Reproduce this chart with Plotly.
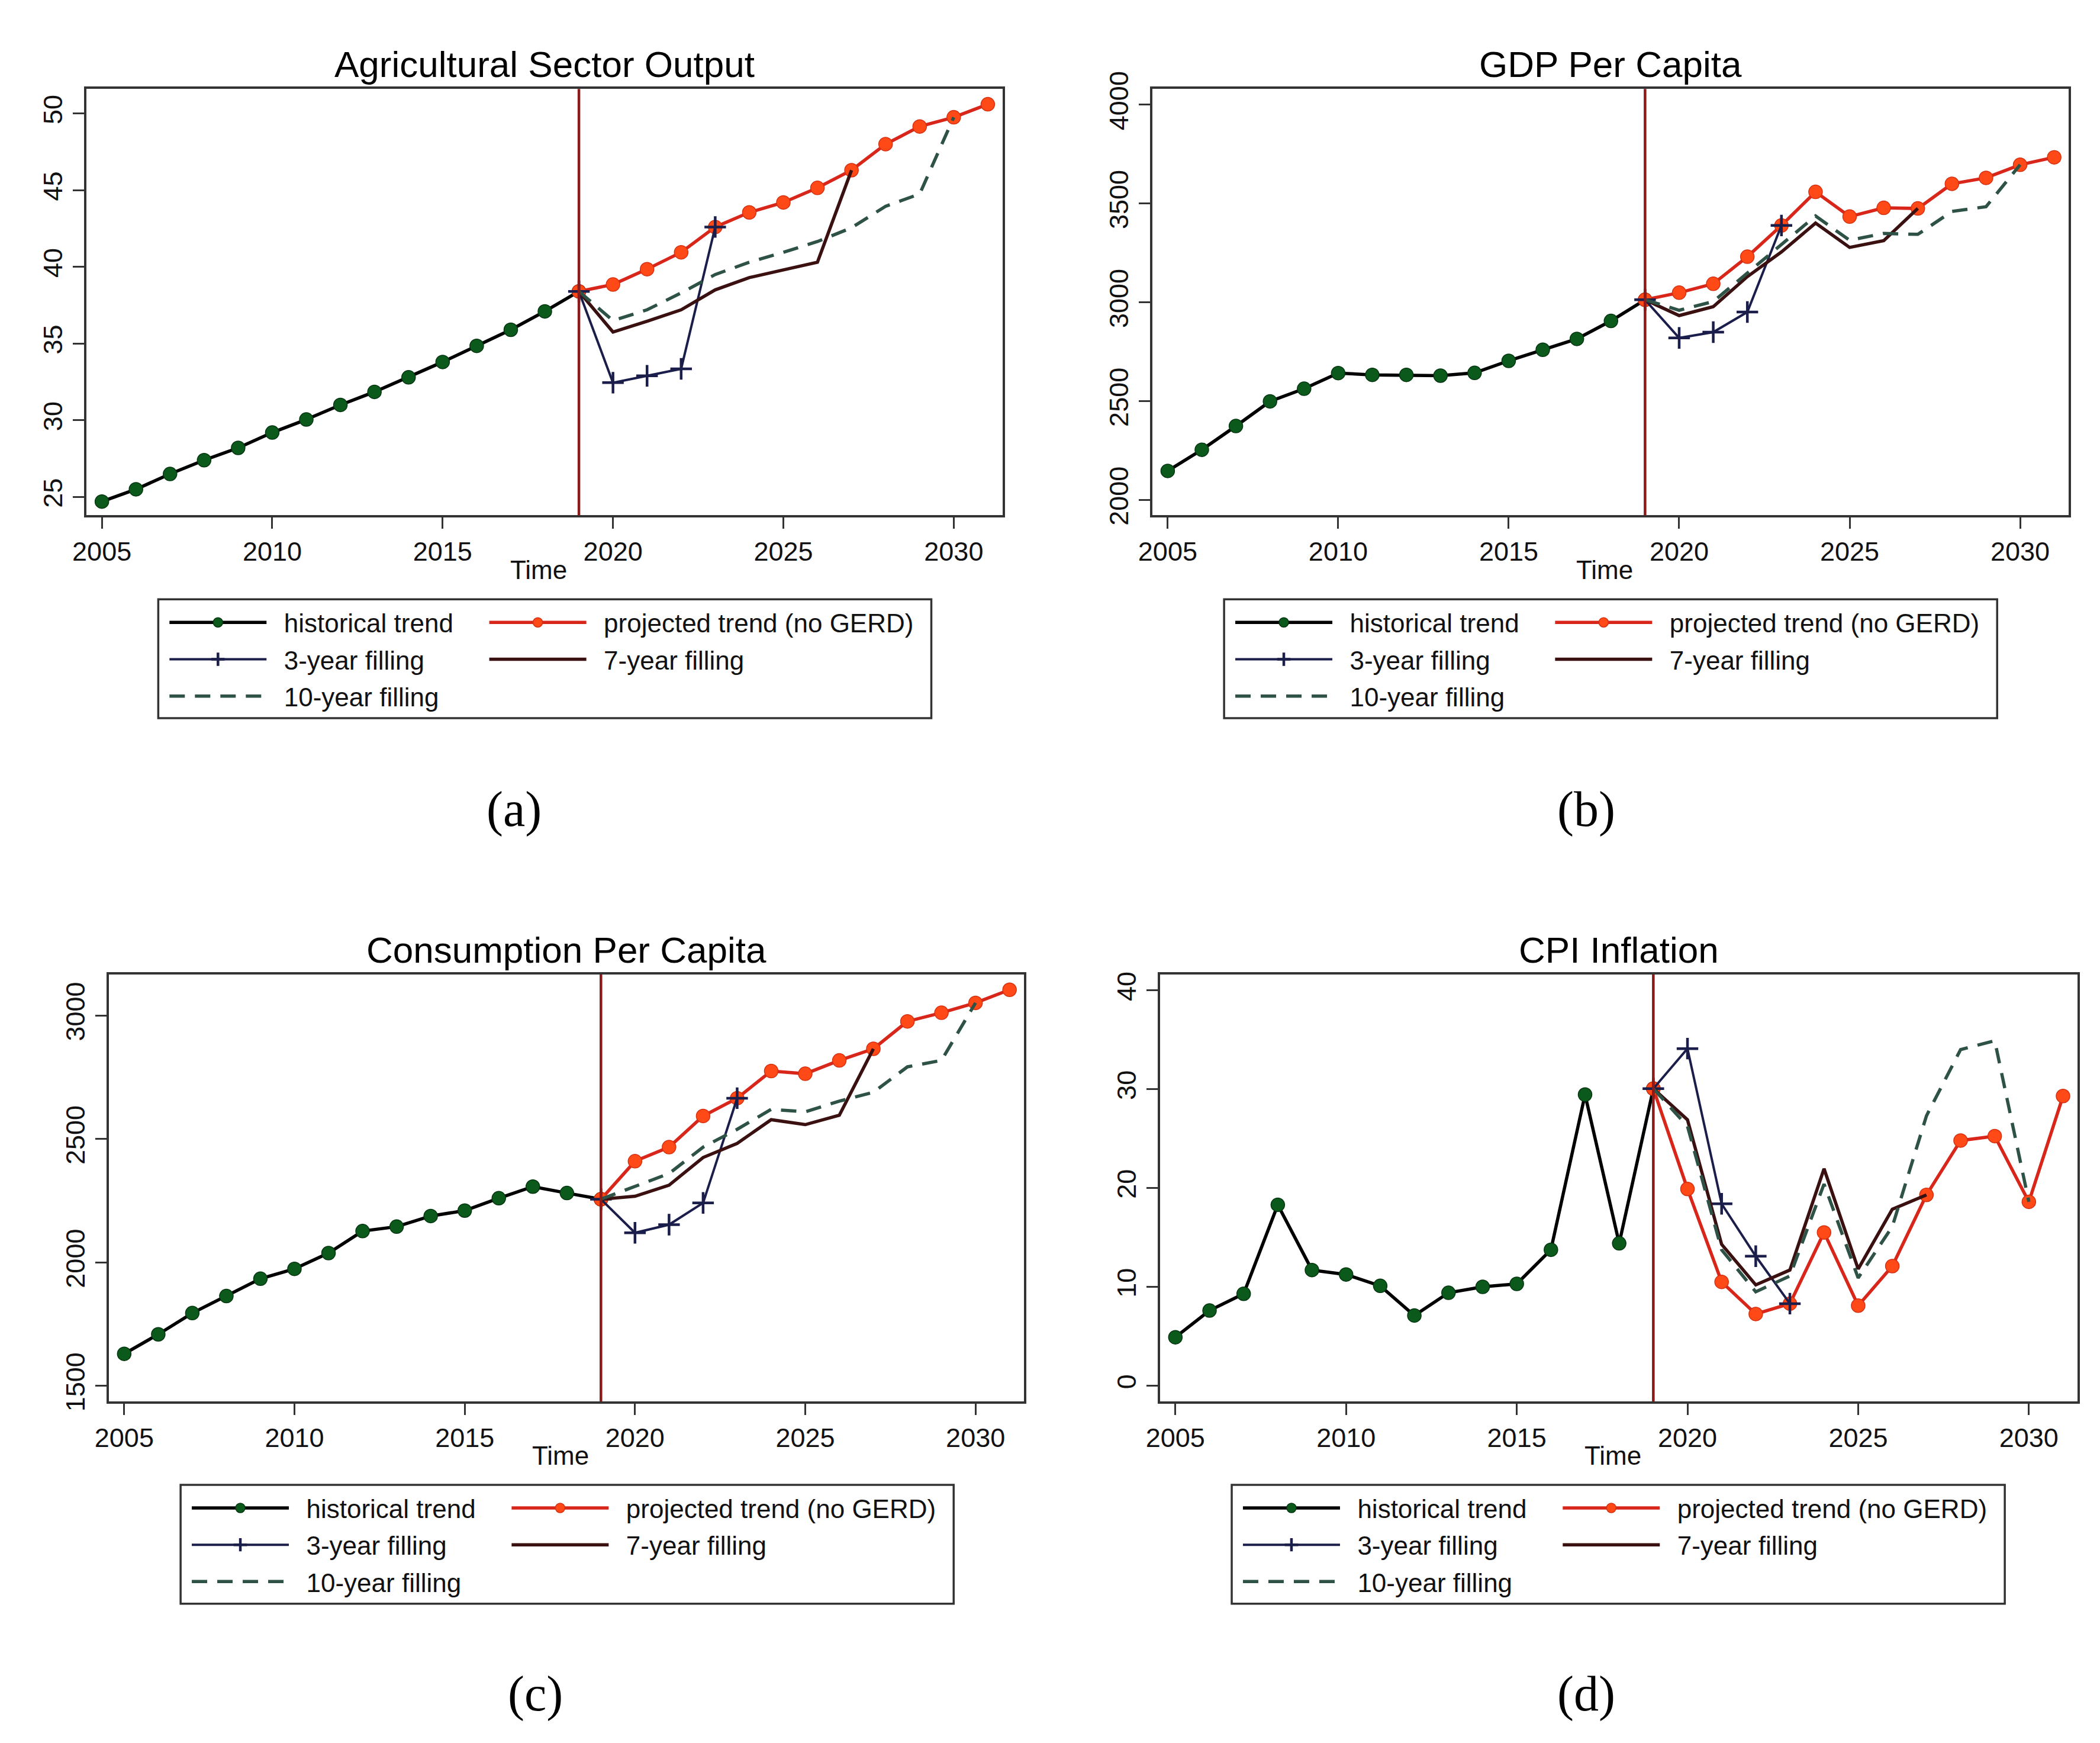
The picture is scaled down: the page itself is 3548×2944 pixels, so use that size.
import plotly.graph_objects as go

W, H = 3548, 2944

# ---------------- data ----------------
years_hist = [2005, 2006, 2007, 2008, 2009, 2010, 2011, 2012, 2013, 2014, 2015, 2016, 2017, 2018, 2019]
years_proj = [2019, 2020, 2021, 2022, 2023, 2024, 2025, 2026, 2027, 2028, 2029, 2030, 2031]
years_3 = [2019, 2020, 2021, 2022, 2023]
years_7 = [2019, 2020, 2021, 2022, 2023, 2024, 2025, 2026, 2027]
years_10 = [2019, 2020, 2021, 2022, 2023, 2024, 2025, 2026, 2027, 2028, 2029, 2030]
break_year = 2019
x_ticks = [2005, 2010, 2015, 2020, 2025, 2030]

series_names = ["historical trend", "projected trend (no GERD)", "3-year filling",
                "7-year filling", "10-year filling"]

# (a) Agricultural Sector Output
agr_hist = [24.7, 25.5, 26.5, 27.4, 28.2, 29.2, 30.05, 31.0, 31.85, 32.8, 33.8, 34.85, 35.9, 37.1, 38.4]
agr_proj = [38.4, 38.85, 39.85, 40.95, 42.6, 43.55, 44.2, 45.15, 46.3, 48.0, 49.15, 49.75, 50.6]
agr_3 = [38.4, 32.45, 32.9, 33.35, 42.6]
agr_7 = [38.4, 35.75, 36.45, 37.2, 38.5, 39.3, 39.8, 40.3, 46.3]
agr_10 = [38.4, 36.5, 37.2, 38.3, 39.5, 40.3, 40.95, 41.65, 42.55, 43.95, 44.75, 49.75]
agr_ticks = [25, 30, 35, 40, 45, 50]

# (b) GDP Per Capita
gdp_hist = [2147, 2254, 2374, 2499, 2563, 2642, 2633, 2633, 2629, 2643, 2704, 2760, 2815, 2906, 3013]
gdp_proj = [3013, 3049, 3094, 3231, 3389, 3559, 3434, 3478, 3475, 3600, 3630, 3696, 3734]
gdp_3 = [3013, 2820, 2849, 2951, 3389]
gdp_7 = [3013, 2933, 2978, 3130, 3255, 3401, 3278, 3312, 3475]
gdp_10 = [3013, 2960, 3004, 3147, 3290, 3437, 3314, 3349, 3344, 3460, 3484, 3696]
gdp_ticks = [2000, 2500, 3000, 3500, 4000]

# (c) Consumption Per Capita
cons_hist = [1630, 1709, 1795, 1864, 1934, 1974, 2038, 2127, 2145, 2188, 2210, 2260, 2307, 2281, 2256]
cons_proj = [2256, 2410, 2467, 2593, 2665, 2775, 2764, 2818, 2865, 2976, 3011, 3051, 3104]
cons_3 = [2256, 2120, 2153, 2241, 2665]
cons_7 = [2256, 2268, 2313, 2425, 2482, 2578, 2558, 2596, 2865]
cons_10 = [2256, 2307, 2360, 2467, 2539, 2620, 2610, 2653, 2689, 2792, 2818, 3051]
cons_ticks = [1500, 2000, 2500, 3000]

# (d) CPI Inflation
cpi_hist = [4.9, 7.6, 9.3, 18.3, 11.7, 11.25, 10.1, 7.1, 9.4, 10.0, 10.3, 13.75, 29.45, 14.4, 30.05]
cpi_proj = [30.05, 19.9, 10.5, 7.25, 8.3, 15.5, 8.1, 12.1, 19.3, 24.8, 25.25, 18.6, 29.3]
cpi_3 = [30.05, 34.1, 18.4, 13.1, 8.3]
cpi_7 = [30.05, 26.9, 14.3, 10.2, 11.7, 21.95, 11.8, 17.85, 19.3]
cpi_10 = [30.05, 26.25, 13.75, 9.5, 11.1, 20.4, 10.9, 16.1, 27.3, 34.0, 34.9, 18.6]
cpi_ticks = [0, 10, 20, 30, 40]

# ---------------- layout geometry (pixels) ----------------
panels = [
    dict(title="Agricultural Sector Output", label="(a)",
         data=(agr_hist, agr_proj, agr_3, agr_7, agr_10), ticks=agr_ticks, yr=[23.8, 51.6],
         box=(115, 114, 1673, 846), leg=(237, 990, 1552, 1194), lab=(842, 1351)),
    dict(title="GDP Per Capita", label="(b)",
         data=(gdp_hist, gdp_proj, gdp_3, gdp_7, gdp_10), ticks=gdp_ticks, yr=[1922, 4080],
         box=(1928, 114, 3487, 846), leg=(2050, 990, 3365, 1194), lab=(2666, 1351)),
    dict(title="Consumption Per Capita", label="(c)",
         data=(cons_hist, cons_proj, cons_3, cons_7, cons_10), ticks=cons_ticks, yr=[1437, 3166],
         box=(153, 1634, 1710, 2367), leg=(275, 2510, 1590, 2714), lab=(878, 2869)),
    dict(title="CPI Inflation", label="(d)",
         data=(cpi_hist, cpi_proj, cpi_3, cpi_7, cpi_10), ticks=cpi_ticks, yr=[-1.6, 41.6],
         box=(1941, 1634, 3502, 2367), leg=(2063, 2510, 3378, 2714), lab=(2666, 2869)),
]
x_range = [2004.55, 2031.43]

SANS = "Liberation Sans, Arial, sans-serif"
SERIF = "Liberation Serif, Times New Roman, serif"
AX = "#333333"

def px(x):
    return x / W

def py(y):
    return 1 - y / H

fig = go.Figure()
layout = dict(width=W, height=H, margin=dict(l=0, r=0, t=0, b=0),
              paper_bgcolor="white", plot_bgcolor="white", showlegend=True)
shapes, annots = [], []
NB = "\u00a0\u00a0"

for i, p in enumerate(panels):
    sfx = "" if i == 0 else str(i + 1)
    xa, ya = "x" + sfx, "y" + sfx
    leg1 = "legend" if i == 0 else "legend%d" % (2 * i + 1)
    leg2 = "legend%d" % (2 * i + 2)
    hist, proj, f3, f7, f10 = p["data"]
    l, t, r, b = p["box"]

    def grp(k):
        return "p%d_s%d" % (i, k)

    fig.add_trace(go.Scatter(x=years_hist, y=hist, mode="lines+markers", name=NB + series_names[0],
                             xaxis=xa, yaxis=ya, legend=leg1, legendgroup=grp(0),
                             line=dict(color="#000000", width=5.5),
                             marker=dict(size=23, color="#0B5A1C", line=dict(color="#053510", width=1.5))))
    fig.add_trace(go.Scatter(x=years_proj, y=proj, mode="lines+markers", name=NB + series_names[1],
                             xaxis=xa, yaxis=ya, legend=leg2, legendgroup=grp(1),
                             line=dict(color="#D8261A", width=5.5),
                             marker=dict(size=23, color="#FF4A17", line=dict(color="#D63012", width=1.5))))
    fig.add_trace(go.Scatter(x=years_3, y=f3, mode="lines+markers", name=NB + series_names[2],
                             xaxis=xa, yaxis=ya, legend=leg1, legendgroup=grp(2),
                             line=dict(color="#1B1E4A", width=4),
                             marker=dict(symbol="cross-thin", size=26, color="#1B1E4A",
                                         line=dict(color="#1B1E4A", width=4.5))))
    fig.add_trace(go.Scatter(x=years_7, y=f7, mode="lines", name=NB + series_names[3],
                             xaxis=xa, yaxis=ya, legend=leg2, legendgroup=grp(3),
                             line=dict(color="#3A1010", width=5.5)))
    fig.add_trace(go.Scatter(x=years_10, y=f10, mode="lines", name=NB + series_names[4],
                             xaxis=xa, yaxis=ya, legend=leg1, legendgroup=grp(4),
                             line=dict(color="#2E5246", width=5.5, dash="26px,17px")))

    axcommon = dict(showline=True, mirror=True, linecolor=AX, linewidth=3.5,
                    ticks="outside", ticklen=19, tickwidth=3, tickcolor=AX,
                    showgrid=False, zeroline=False,
                    tickfont=dict(family=SANS, size=45, color="#111111"))
    layout["xaxis" + sfx] = dict(axcommon, domain=[px(l), px(r)], range=x_range,
                                 tickvals=x_ticks, anchor=ya)
    layout["yaxis" + sfx] = dict(axcommon, domain=[py(b), py(t)], range=p["yr"],
                                 tickvals=p["ticks"], tickangle=-90, anchor=xa)

    shapes.append(dict(type="line", xref=xa, yref=ya + " domain", x0=break_year, x1=break_year,
                       y0=0, y1=1, line=dict(color="#8B1A1A", width=4.5)))
    ll, lt, lr, lb = p["leg"]
    shapes.append(dict(type="rect", xref="paper", yref="paper", x0=px(ll), x1=px(lr),
                       y0=py(lb), y1=py(lt), line=dict(color=AX, width=3.5), fillcolor="rgba(0,0,0,0)",
                       layer="below"))
    legcommon = dict(orientation="v", xanchor="left", yanchor="top", bgcolor="rgba(0,0,0,0)",
                     borderwidth=0, itemwidth=164, traceorder="grouped", tracegroupgap=2,
                     font=dict(family=SANS, size=44, color="#111111"), y=py(lt + 4))
    layout[leg1] = dict(legcommon, x=px(ll + 14))
    layout[leg2] = dict(legcommon, x=px(ll + 558))

    cx = (l + r) / 2
    annots.append(dict(text=p["title"], xref="paper", yref="paper", x=px(cx), y=py(t - 42),
                       xanchor="center", yanchor="middle", showarrow=False,
                       font=dict(family=SANS, size=62, color="#000000")))
    annots.append(dict(text="Time", xref="paper", yref="paper", x=px(cx - 10), y=py(b + 93),
                       xanchor="center", yanchor="middle", showarrow=False,
                       font=dict(family=SANS, size=44, color="#111111")))
    annots.append(dict(text=p["label"], xref="paper", yref="paper", x=px(p["lab"][0]), y=py(p["lab"][1]),
                       xanchor="center", yanchor="middle", showarrow=False,
                       font=dict(family=SERIF, size=84, color="#000000")))

layout["shapes"] = shapes
layout["annotations"] = annots
fig.update_layout(**layout)
fig.write_html("out.html")
